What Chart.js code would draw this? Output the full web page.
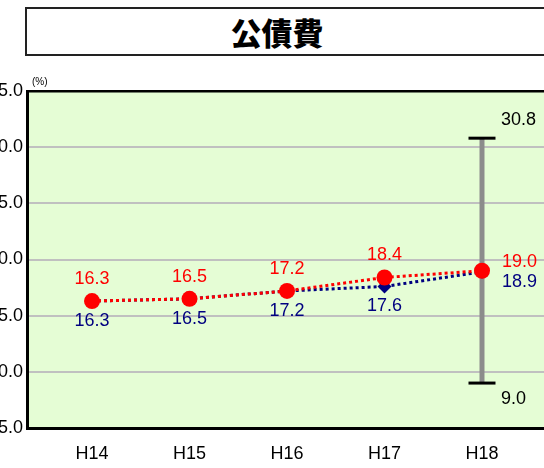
<!DOCTYPE html>
<html>
<head>
<meta charset="utf-8">
<script src="https://cdn.jsdelivr.net/npm/chart.js@4/dist/chart.umd.min.js"></script>
<style>
  html, body { margin: 0; padding: 0; background: #fff; overflow: hidden; width: 544px; height: 468px; }
  .title-box {
    position: absolute; left: 25px; top: 7px; width: 540px; height: 45px;
    border: 2px solid #222; background: #fff;
  }
  .title-box span {
    position: absolute; left: 0; width: 500px; top: 0; line-height: 45px; text-align: center;
    font: 900 31px "Noto Sans CJK JP", sans-serif; color: #000;
  }
  .wrap { position: absolute; left: -30px; top: 60px; width: 600px; height: 408px; }
</style>
</head>
<body>
<div class="title-box"><span>公債費</span></div>
<div class="wrap"><canvas id="chart"></canvas></div>
<script>
Chart.defaults.font.family = "'Liberation Sans', Arial, sans-serif";
Chart.defaults.plugins.legend.display = false;
Chart.defaults.plugins.tooltip.enabled = false;

const YEARS = ['H14', 'H15', 'H16', 'H17', 'H18'];
const CITY = [16.3, 16.5, 17.2, 18.4, 19.0];
const AVERAGE = [16.3, 16.5, 17.2, 17.6, 18.9];
const RANGE_H18 = [9.0, 30.8];
const Y_MIN = 5, Y_MAX = 35, Y_STEP = 5;

const RED = '#ff0000', NAVY = '#000080';
const last = YEARS.length - 1;

/* plot background + "(%)" */
const backdrop = {
  id: 'backdrop',
  beforeDraw(chart) {
    const { ctx, chartArea: a } = chart;
    ctx.save();
    ctx.fillStyle = '#e5fdd5';
    ctx.fillRect(a.left, a.top, a.right - a.left, a.bottom - a.top);
    ctx.fillStyle = '#000';
    ctx.font = "10px 'Liberation Sans', Arial, sans-serif";
    ctx.textBaseline = 'bottom';
    ctx.fillText('(%)', a.left + 5, a.top - 4);
    ctx.restore();
  },
};

/* value labels */
const valueLabels = {
  id: 'valueLabels',
  afterDatasetsDraw(chart) {
    const { ctx } = chart;
    ctx.save();
    ctx.font = "18px 'Liberation Sans', Arial, sans-serif";
    ctx.textBaseline = 'middle';
    chart.data.datasets.forEach((ds, di) => {
      const meta = chart.getDatasetMeta(di);
      meta.data.forEach((pt, i) => {
        const v = ds.data[i].y;
        const txt = v.toFixed(1);
        let x = pt.x, y = pt.y, align = 'center';
        if (ds.kind === 'range') {
          align = 'left'; x += 19;
          y += (i === 0 ? 16 : -18);
          ctx.fillStyle = '#000';
        } else if (ds.data[i].x === last) {
          align = 'left'; x += 20;
          y += (ds.kind === 'city' ? -9 : 10);
          ctx.fillStyle = ds.kind === 'city' ? RED : NAVY;
        } else {
          y += (ds.kind === 'city' ? -22 : 20);
          ctx.fillStyle = ds.kind === 'city' ? RED : NAVY;
        }
        ctx.textAlign = align;
        ctx.fillText(txt, x, y);
      });
    });
    ctx.restore();
  },
};

new Chart(document.getElementById('chart'), {
  type: 'line',
  data: {
    datasets: [
      {
        kind: 'city',
        data: CITY.map((v, i) => ({ x: i, y: v })),
        borderColor: RED, borderWidth: 3, borderDash: [3, 3],
        pointRadius: 8, pointBackgroundColor: RED, pointBorderColor: RED, pointBorderWidth: 0,
        tension: 0,
      },
      {
        kind: 'average',
        data: AVERAGE.map((v, i) => ({ x: i, y: v })),
        borderColor: NAVY, borderWidth: 3, borderDash: [3, 3],
        pointStyle: 'rectRot', pointRadius: 7,
        pointBackgroundColor: NAVY, pointBorderColor: NAVY, pointBorderWidth: 0,
        tension: 0,
      },
      {
        kind: 'range',
        data: RANGE_H18.map(v => ({ x: last, y: v })),
        borderColor: '#8c8c8c', borderWidth: 5,
        pointStyle: 'line', pointRadius: 13.5,
        pointBorderColor: '#000', pointBorderWidth: 3,
      },
    ],
  },
  options: {
    responsive: true, maintainAspectRatio: false, animation: false,
    layout: { padding: { top: 31, right: 22, left: 0, bottom: 0 } },
    scales: {
      x: {
        type: 'linear', min: -0.667, max: 4.677,
        afterBuildTicks: s => { s.ticks = YEARS.map((_, i) => ({ value: i })); },
        afterFit: s => { s.height = 40; },
        grid: { display: false, drawTicks: false },
        border: { display: true, color: '#000', width: 3 },
        ticks: { color: '#000', font: { size: 18 }, padding: 15, callback: v => YEARS[v] },
      },
      y: {
        min: Y_MIN, max: Y_MAX,
        afterFit: s => { s.width = 57; },
        grid: {
          drawTicks: false,
          color: c => c.tick.value === Y_MAX ? '#000' : '#c0c0c0',
          lineWidth: c => c.tick.value === Y_MAX ? 2.5 : 2,
        },
        border: { display: true, color: '#000', width: 3 },
        ticks: { stepSize: Y_STEP, color: '#000', font: { size: 18 }, padding: 4, callback: v => v.toFixed(1) },
      },
    },
  },
  plugins: [backdrop, valueLabels],
});
</script>
</body>
</html>
